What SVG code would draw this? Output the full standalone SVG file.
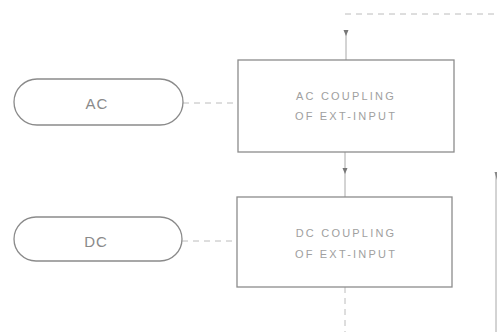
<svg xmlns="http://www.w3.org/2000/svg" width="497" height="332" viewBox="0 0 497 332">
<style>
.pill{fill:#fff;stroke:#8a8a8a;stroke-width:1.3}
.box{fill:#fff;stroke:#8c8c8c;stroke-width:1.3}
.lbl{font-family:"Liberation Sans",Arial,sans-serif;font-size:15px;fill:#8a8a8a;text-anchor:middle;letter-spacing:1px}
.txt{font-family:"Liberation Sans",Arial,sans-serif;font-size:11px;fill:#a0a0a0;text-anchor:middle;letter-spacing:2.2px}
.dash{fill:none;stroke:#bcbcbc;stroke-width:1;stroke-dasharray:6 5}
.solid{fill:none;stroke:#a8a8a8;stroke-width:1}
</style>
<rect width="497" height="332" fill="#fff"/>
<g id="connectors">
<path class="dash" d="M345,14 L497,14"/>
<path class="solid" d="M346,30 L346,60"/>
<path d="M343.5,30 L348.5,30 L346,36 z" fill="#777"/>
<path class="dash" d="M183,103 L238,103"/>
<path class="solid" d="M345,152 L345,197"/>
<path d="M342.5,168 L347.5,168 L345,174 z" fill="#777"/>
<path class="dash" d="M182,241 L237,241"/>
<path class="dash" d="M345,287 L345,332"/>
<path class="solid" d="M496,172 L496,332" stroke="#d0d0d0"/>
<path d="M494.5,172 L497,172 L497,180 z" fill="#888"/>
</g>
<g id="ac-pill">
<rect class="pill" x="14" y="79" width="169" height="46" rx="23" ry="23"/>
<text class="lbl" x="97" y="109">AC</text>
</g>
<g id="ac-box">
<rect class="box" x="238" y="60" width="216" height="92"/>
<text class="txt" x="346" y="100">AC COUPLING</text>
<text class="txt" x="346" y="120">OF EXT-INPUT</text>
</g>
<g id="dc-pill">
<rect class="pill" x="14" y="217" width="168" height="44" rx="22" ry="22"/>
<text class="lbl" x="96" y="247">DC</text>
</g>
<g id="dc-box">
<rect class="box" x="237" y="197" width="215" height="90"/>
<text class="txt" x="346" y="237">DC COUPLING</text>
<text class="txt" x="346" y="258">OF EXT-INPUT</text>
</g>
</svg>
